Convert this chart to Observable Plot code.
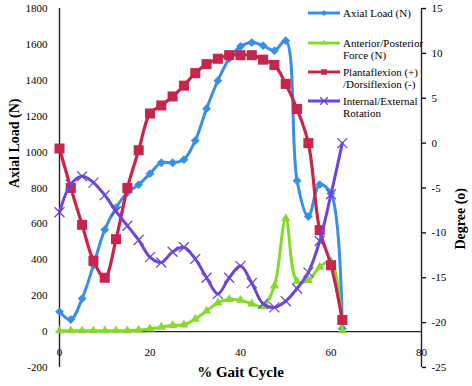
<!DOCTYPE html>
<html><head><meta charset="utf-8">
<script src="https://cdn.jsdelivr.net/npm/d3@7"></script>
<script src="https://cdn.jsdelivr.net/npm/@observablehq/plot@0.6"></script>
<style>
body{margin:0;background:#fff;font-family:"Liberation Serif","Times New Roman",serif;}
#wrap{position:relative;width:472px;height:386px;}
#legend{position:absolute;left:0;top:0;font-size:11px;color:#000;}
.item{position:absolute;left:308px;display:flex;align-items:flex-start;line-height:12px;white-space:nowrap;}
.item svg{flex:none;margin-top:0px;}
.item span{margin-left:1px;}
</style></head><body><div id="wrap"></div>
<script>
// % gait cycle (x)
const gait = [0,2.5,5,7.5,10,12.5,15,17.5,20,22.5,25,27.5,30,32.5,35,37.5,40,42.5,45,47.5,50,52.5,55,57.5,60,62.5];
// Left axis series (N)
const axialLoad = [111,67,184,370,568,690,775,819,880,941,941,958,1064,1242,1398,1521,1588,1610,1593,1565,1621,841,641,819,769,17];
const apForce = [5,5,5,5,5,5,5,8,15,25,35,38,70,115,160,180,175,155,140,255,630,280,285,360,390,5];
// Right axis series (degrees)
const plantaflexion = [-0.6,-5,-9.1,-13.1,-15,-10.7,-5,-0.8,3.3,4.2,5.2,6.4,7.8,8.8,9.4,9.8,9.8,9.8,9.3,8.7,6.6,3.8,0,-9.7,-13.6,-19.7];
const rotation = [-7.7,-4.6,-3.7,-4.4,-5.8,-7.6,-9.2,-10.8,-12.7,-13.3,-12.1,-11.6,-12.9,-15,-16.8,-15,-13.7,-15.6,-17.9,-18.3,-17.6,-16.2,-14.4,-10.9,-5.7,0];
// ticks
const xTicks = [0,20,40,60,80];
const loadTicks = [-200,0,200,400,600,800,1000,1200,1400,1600,1800];
const degreeTicks = [-25,-20,-15,-10,-5,0,5,10,15];
const seriesNames = ["Axial Load (N)","Anterior/Posterior\nForce (N)","Plantaflexion (+)\n/Dorsiflexion (-)","Internal/External\nRotation"];
const colors = ["#3a8ee6","#84d92c","#c6254c","#6a47d6"];

// degree (right axis) -> N (left axis) shared scale
const degToN = d => (d + 25) * 50 - 200;
const nToDeg = n => Math.round((n + 200) / 50 - 25);

const rows = gait.map((g, i) => ({
  g, axial: axialLoad[i], ap: apForce[i], pf: degToN(plantaflexion[i]), rot: degToN(rotation[i])
}));

const font = "Liberation Serif, Times New Roman, serif";
const lineOpts = (y, c, w) => ({x: "g", y, stroke: c, strokeWidth: w, curve: "catmull-rom"});

const chart = Plot.plot({
  width: 472, height: 386,
  marginLeft: 59, marginRight: 51, marginTop: 8, marginBottom: 19,
  x: {domain: [0, 80]},
  y: {domain: [-200, 1800]},
  style: {fontFamily: font, fontSize: "11px", background: "white", color: "black", overflow: "visible"},
  marks: [
    Plot.axisY(loadTicks, {anchor: "left", tickSize: 0, tickPadding: 12, tickFormat: d => String(d), label: null, fontSize: 11}),
    Plot.axisY(degreeTicks.map(degToN), {anchor: "right", tickSize: 4, tickPadding: 6, tickFormat: n => String(nToDeg(n)), label: null, fontSize: 11, strokeWidth: 1.3}),
    Plot.axisX(xTicks, {anchor: "bottom", tickSize: 0, dy: -28, tickFormat: d => String(d), label: null, fontSize: 11}),
    Plot.ruleX([0], {stroke: "#222", strokeWidth: 1.4}),
    Plot.ruleX([80], {stroke: "#222", strokeWidth: 1.4}),
    Plot.ruleY([0], {stroke: "#222", strokeWidth: 1.4}),
    Plot.line(rows, lineOpts("axial", colors[0], 3)),
    Plot.dot(rows, {x: "g", y: "axial", symbol: "diamond2", r: 4, fill: colors[0]}),
    Plot.line(rows, lineOpts("ap", colors[1], 3)),
    Plot.dot(rows, {x: "g", y: "ap", symbol: "triangle2", r: 4.4, fill: colors[1]}),
    Plot.line(rows, lineOpts("pf", colors[2], 3.2)),
    Plot.dot(rows, {x: "g", y: "pf", symbol: "square2", r: 6.4, fill: colors[2]}),
    Plot.line(rows, lineOpts("rot", colors[3], 3)),
    Plot.dot(rows, {x: "g", y: "rot", symbol: "times", r: 4.6, stroke: colors[3], strokeWidth: 1.3}),
    Plot.text(["Axial Load (N)"], {text: d => d, frameAnchor: "left", dx: -45, rotate: -90, fontWeight: "bold", fontSize: 14}),
    Plot.text(["Degree (o)"], {text: d => d, frameAnchor: "right", dx: 39, rotate: -90, fontWeight: "bold", fontSize: 14}),
    Plot.text(["% Gait Cycle"], {text: d => d, frameAnchor: "bottom", dy: 9, fontWeight: "bold", fontSize: 15})
  ]
});

const wrap = document.getElementById("wrap");
wrap.appendChild(chart);

// legend
const legend = document.createElement("div");
legend.id = "legend";
const tops = [13, 43, 72, 101];
const syms = [d3.symbolDiamond2, d3.symbolTriangle2, d3.symbolSquare2, d3.symbolTimes];
const symSize = [28, 36, 70, 60];
seriesNames.forEach((name, i) => {
  const item = document.createElement("div");
  item.className = "item";
  item.style.top = (tops[i] - 6) + "px";
  const svg = d3.create("svg").attr("width", 34).attr("height", 12);
  svg.append("line").attr("x1", 0).attr("x2", 32).attr("y1", 6).attr("y2", 6)
    .attr("stroke", colors[i]).attr("stroke-width", 3);
  const p = svg.append("path").attr("transform", "translate(16,6)")
    .attr("d", d3.symbol(syms[i], i === 2 ? 40 : i === 3 ? 40 : 22)());
  if (i === 3) p.attr("stroke", colors[i]).attr("fill", "none").attr("stroke-width", 1.3);
  else p.attr("fill", colors[i]);
  item.appendChild(svg.node());
  const span = document.createElement("span");
  span.innerHTML = name.split("\n").join("<br>");
  item.appendChild(span);
  legend.appendChild(item);
});
wrap.appendChild(legend);
</script>
</body></html>
